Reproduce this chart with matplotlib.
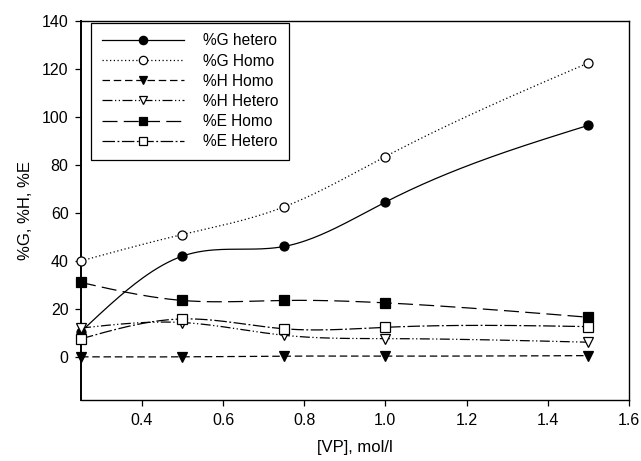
import numpy as np
import matplotlib
matplotlib.use("Agg")
import matplotlib.pyplot as plt
from matplotlib.lines import Line2D

plt.rcParams["font.family"] = ["Liberation Sans", "DejaVu Sans"]

vp = [0.25, 0.5, 0.75, 1.0, 1.5]
g_hetero = [10.5, 42.0, 46.0, 64.5, 96.5]
g_homo = [40.0, 51.0, 62.5, 83.5, 122.5]
h_homo = [0.0, 0.0, 0.3, 0.3, 0.5]
h_hetero = [12.0, 14.3, 9.0, 7.6, 6.1]
e_homo = [31.0, 23.5, 23.5, 22.5, 16.5]
e_hetero = [7.5, 15.8, 11.7, 12.3, 12.6]

labels = ["%G hetero", "%G Homo", "%H Homo", "%H Hetero", "%E Homo", "%E Hetero"]


def spline(x, y, n=200):
    # natural cubic spline, like the smoothed curves in the original
    x = np.asarray(x, float)
    y = np.asarray(y, float)
    k = len(x)
    h = np.diff(x)
    A = np.zeros((k, k))
    b = np.zeros(k)
    A[0, 0] = A[-1, -1] = 1
    for i in range(1, k - 1):
        A[i, i - 1] = h[i - 1]
        A[i, i] = 2 * (h[i - 1] + h[i])
        A[i, i + 1] = h[i]
        b[i] = 3 * ((y[i + 1] - y[i]) / h[i] - (y[i] - y[i - 1]) / h[i - 1])
    c = np.linalg.solve(A, b)
    xs = np.linspace(x[0], x[-1], n)
    idx = np.clip(np.searchsorted(x, xs) - 1, 0, k - 2)
    dx = xs - x[idx]
    hi = h[idx]
    bb = (y[idx + 1] - y[idx]) / hi - hi * (2 * c[idx] + c[idx + 1]) / 3
    d = (c[idx + 1] - c[idx]) / (3 * hi)
    ys = y[idx] + bb * dx + c[idx] * dx ** 2 + d * dx ** 3
    return xs, ys


styles = [
    dict(ls="-", marker="o", mfc="black"),
    dict(ls=(0, (1, 2)), marker="o", mfc="white"),
    dict(ls=(0, (6, 3)), marker="v", mfc="black"),
    dict(ls=(0, (8, 2, 1, 2, 1, 2)), marker="v", mfc="white"),
    dict(ls=(0, (12, 5)), marker="s", mfc="black"),
    dict(ls=(0, (10, 2, 1.5, 2)), marker="s", mfc="white"),
]

series = [g_hetero, g_homo, h_homo, h_hetero, e_homo, e_hetero]

fig = plt.figure(figsize=(6.41, 4.61), dpi=100)
ax = fig.add_axes([0.1264, 0.1323, 0.8546, 0.8221])

handles = []
for vals, st, lab in zip(series, styles, labels):
    xs, ys = spline(vp, vals)
    ax.plot(xs, ys, color="black", lw=0.9, ls=st["ls"])
    ax.plot(vp, vals, ls="none", marker=st["marker"], ms=6.5,
            mfc=st["mfc"], mec="black", mew=0.9, clip_on=False, zorder=3)
    handles.append(Line2D([], [], color="black", lw=0.9, ls=st["ls"],
                          marker=st["marker"], ms=6, mfc=st["mfc"],
                          mec="black", mew=0.9))

ax.set_xlim(0.25, 1.6)
ax.set_ylim(-18, 140)
ax.set_xticks([0.4, 0.6, 0.8, 1.0, 1.2, 1.4, 1.6])
ax.set_yticks([0, 20, 40, 60, 80, 100, 120, 140])
ax.tick_params(direction="out", length=4, width=0.9, labelsize=11.5,
               top=False, right=False, pad=5)
for s in ax.spines.values():
    s.set_linewidth(1.0)
ax.spines["left"].set_linewidth(1.4)

ax.set_xlabel("[VP], mol/l", fontsize=12, labelpad=9)
ax.set_ylabel("%G, %H, %E", fontsize=12, labelpad=6)

leg = ax.legend(handles, labels, loc="upper left", fontsize=11.2,
                handlelength=5.3, handletextpad=1.2, labelspacing=0.33,
                borderaxespad=0.1, fancybox=False, framealpha=1,
                edgecolor="black", borderpad=0.7,
                bbox_to_anchor=(0.015, 1.0))
leg.get_frame().set_linewidth(0.9)

fig.savefig("out.png", dpi=100)
